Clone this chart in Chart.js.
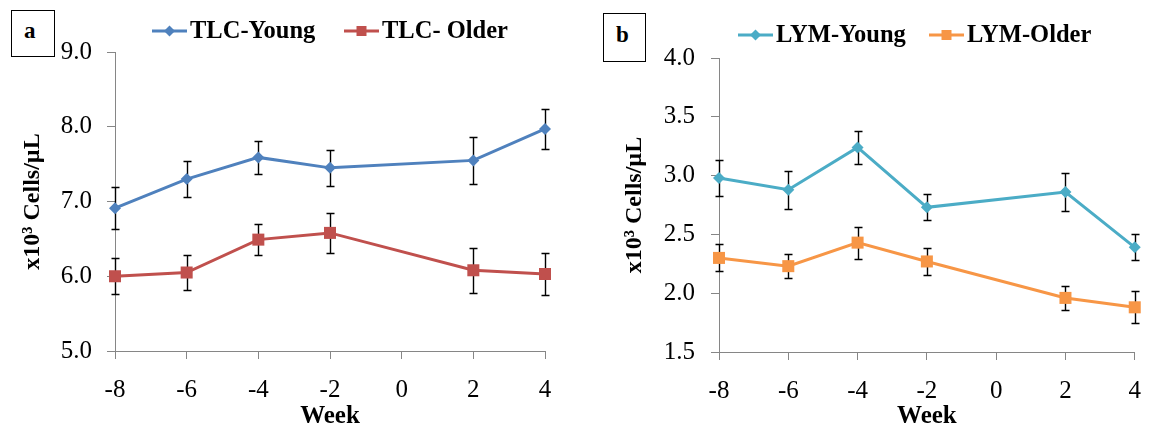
<!DOCTYPE html>
<html>
<head>
<meta charset="utf-8">
<script src="https://cdn.jsdelivr.net/npm/chart.js@4/dist/chart.umd.min.js"></script>
<style>
  html, body { margin: 0; padding: 0; background: #fff; }
  #wrap { position: relative; width: 1157px; height: 428px; overflow: hidden; background: #fff; }
  #wrap canvas { position: absolute; top: 0; }
  #ca { left: 0; }
  #cb { left: 578px; }
  .tag {
    position: absolute; box-sizing: border-box; border: 1px solid #000; background: #fff;
    font: bold 23px "Liberation Serif", "Times New Roman", serif; line-height: 23px; color: #000;
  }
</style>
</head>
<body>
<div id="wrap">
  <canvas id="ca" width="578" height="428"></canvas>
  <canvas id="cb" width="579" height="428"></canvas>
  <div class="tag" style="left:11px;top:10px;width:44px;height:47px;padding:8px 0 0 12px;">a</div>
  <div class="tag" style="left:603px;top:13px;width:43px;height:49px;padding:9px 0 0 12px;">b</div>
</div>
<script>
// Sampling weeks relative to the start of the season
const weeks = [-8, -6, -4, -2, 2, 4];
const weekTicks = [-8, -6, -4, -2, 0, 2, 4];

// Total leucocyte count (x10^3 cells/µL), mean and SE
const tlcYoung    = [6.91, 7.30, 7.59, 7.45, 7.55, 7.97];
const tlcYoungErr = [0.28, 0.24, 0.22, 0.24, 0.31, 0.27];
const tlcOlder    = [6.00, 6.05, 6.49, 6.58, 6.08, 6.03];
const tlcOlderErr = [0.24, 0.24, 0.21, 0.27, 0.30, 0.28];
const tlcTicks    = [5, 6, 7, 8, 9];

// Lymphocyte count (x10^3 cells/µL), mean and SE
const lymYoung    = [2.98, 2.88, 3.24, 2.73, 2.86, 2.39];
const lymYoungErr = [0.15, 0.16, 0.14, 0.11, 0.165, 0.11];
const lymOlder    = [2.30, 2.23, 2.43, 2.27, 1.96, 1.88];
const lymOlderErr = [0.115, 0.10, 0.135, 0.115, 0.105, 0.135];
const lymTicks    = [1.5, 2.0, 2.5, 3.0, 3.5, 4.0];

const FONT = '"Liberation Serif", "Times New Roman", serif';
const AXIS_GREY = '#868686';

function series(label, ys, errs, color, style, radius) {
  return {
    label,
    data: weeks.map((w, i) => ({ x: w, y: ys[i] })),
    errors: errs,
    borderColor: color,
    backgroundColor: color,
    borderWidth: 3,
    pointStyle: style,
    pointRadius: radius,
    pointHoverRadius: radius,
    pointBorderWidth: 0,
    pointBackgroundColor: color,
    tension: 0,
    clip: false
  };
}

// Vertical error bars with caps, drawn under the series lines
const errorBars = {
  id: 'errorBars',
  beforeDatasetsDraw(chart) {
    const { ctx, scales: { x, y } } = chart;
    ctx.save();
    ctx.strokeStyle = '#000';
    ctx.lineWidth = 1.4;
    chart.data.datasets.forEach(ds => {
      ds.data.forEach((p, i) => {
        const e = ds.errors[i];
        const px = Math.round(x.getPixelForValue(p.x)) + 0.5;
        const top = Math.round(y.getPixelForValue(p.y + e)) + 0.5;
        const bot = Math.round(y.getPixelForValue(p.y - e)) + 0.5;
        ctx.beginPath();
        ctx.moveTo(px, top); ctx.lineTo(px, bot);
        ctx.moveTo(px - 4, top); ctx.lineTo(px + 4, top);
        ctx.moveTo(px - 4, bot); ctx.lineTo(px + 4, bot);
        ctx.stroke();
      });
    });
    ctx.restore();
  }
};

function drawMarker(ctx, style, x, y, color) {
  ctx.fillStyle = color;
  ctx.beginPath();
  if (style === 'rectRot') {
    const r = 5.5;
    ctx.moveTo(x - r, y); ctx.lineTo(x, y - r); ctx.lineTo(x + r, y); ctx.lineTo(x, y + r);
    ctx.closePath();
  } else {
    const h = 5;
    ctx.rect(x - h, y - h, 2 * h, 2 * h);
  }
  ctx.fill();
}

// Legend entries: a short line with the series marker, then the label
const lineLegend = {
  id: 'lineLegend',
  afterDraw(chart, args, opts) {
    const ctx = chart.ctx;
    ctx.save();
    ctx.font = 'bold 24.5px ' + FONT;
    ctx.textBaseline = 'middle';
    ctx.textAlign = 'left';
    chart.data.datasets.forEach((ds, i) => {
      const x0 = opts.x[i], y0 = opts.y;
      ctx.strokeStyle = ds.borderColor;
      ctx.lineWidth = 3;
      ctx.beginPath();
      ctx.moveTo(x0, y0); ctx.lineTo(x0 + 35, y0);
      ctx.stroke();
      drawMarker(ctx, ds.pointStyle, x0 + 17.5, y0, ds.borderColor);
      ctx.fillStyle = '#000';
      ctx.fillText(ds.label, x0 + 38, y0 + 1);
    });
    ctx.restore();
  }
};

function makeChart(id, datasets, o) {
  return new Chart(document.getElementById(id), {
    type: 'line',
    data: { datasets },
    plugins: [errorBars, lineLegend],
    options: {
      responsive: false,
      devicePixelRatio: 1,
      animation: false,
      events: [],
      layout: { padding: { top: o.top, right: o.right, bottom: 0, left: 0 } },
      plugins: {
        legend: { display: false },
        tooltip: { enabled: false },
        lineLegend: { x: o.legendX, y: o.legendY }
      },
      scales: {
        x: {
          type: 'linear',
          min: -8, max: 4,
          afterBuildTicks: s => { s.ticks = weekTicks.map(v => ({ value: v })); },
          afterFit: s => { s.height = o.xHeight; },
          grid: { drawOnChartArea: false, drawTicks: true, tickLength: 8, color: AXIS_GREY, lineWidth: 1 },
          border: { display: true, color: AXIS_GREY, width: 1 },
          ticks: { color: '#000', font: { family: FONT, size: 25 }, padding: o.xPad, maxRotation: 0, autoSkip: false },
          title: { display: true, text: 'Week', color: '#000', font: { family: FONT, size: 25, weight: 'bold', lineHeight: 0.92 }, padding: { top: 0, bottom: 0 } }
        },
        y: {
          type: 'linear',
          min: o.yTicks[0], max: o.yTicks[o.yTicks.length - 1],
          afterBuildTicks: s => { s.ticks = o.yTicks.map(v => ({ value: v })); },
          afterFit: s => { s.width = o.yWidth; },
          grid: { drawOnChartArea: false, drawTicks: true, tickLength: 8, color: AXIS_GREY, lineWidth: 1 },
          border: { display: true, color: AXIS_GREY, width: 1 },
          ticks: { color: '#000', font: { family: FONT, size: 25 }, padding: o.yPad, callback: v => v.toFixed(1) },
          title: { display: true, text: 'x10³ Cells/µL', color: '#000', font: { family: FONT, size: 24, weight: 'bold' }, padding: { top: o.yTitlePad, bottom: 0 } }
        }
      }
    }
  });
}

makeChart('ca', [
  series('TLC-Young', tlcYoung, tlcYoungErr, '#4F81BD', 'rectRot', 6),
  series('TLC- Older', tlcOlder, tlcOlderErr, '#C0504D', 'rect', 8.5)
], {
  top: 52, right: 33, yWidth: 115, xHeight: 77, xPad: 16, yPad: 15, yTitlePad: 18.5,
  yTicks: tlcTicks, legendX: [152, 344], legendY: 31
});

makeChart('cb', [
  series('LYM-Young', lymYoung, lymYoungErr, '#4BACC6', 'rectRot', 6),
  series('LYM-Older', lymOlder, lymOlderErr, '#F79646', 'rect', 8.5)
], {
  top: 58, right: 13, yWidth: 141, xHeight: 76, xPad: 16, yPad: 16, yTitlePad: 42.5,
  yTicks: lymTicks, legendX: [160, 351], legendY: 35
});
</script>
</body>
</html>
